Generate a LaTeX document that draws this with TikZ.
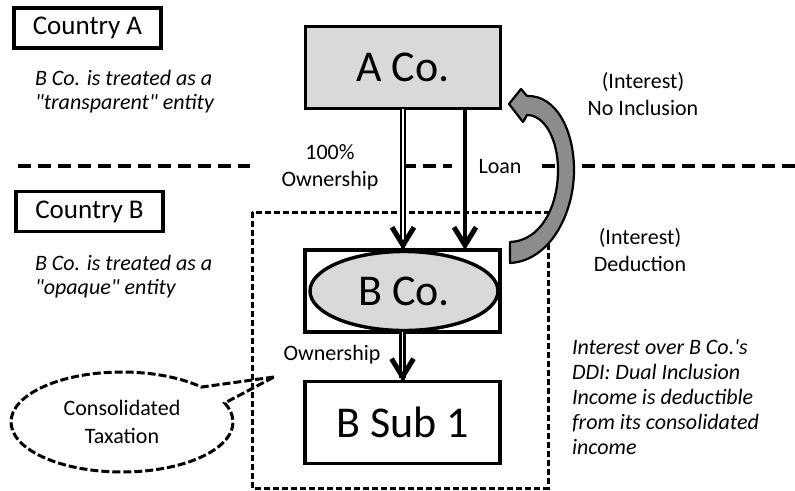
\documentclass[tikz,border=0pt]{standalone}
\usepackage{fontspec}
\setmainfont{Carlito}
\usetikzlibrary{arrows.meta,shapes.geometric,shapes.callouts}
\definecolor{boxgray}{HTML}{D9D9D9}
\definecolor{arrowgray}{HTML}{8C8C8C}

\begin{document}
\begin{tikzpicture}[x=1pt,y=-1pt,
  every node/.style={inner sep=0pt, outer sep=0pt},
  country/.style={draw, line width=3.2pt, minimum width=147pt, minimum height=40pt,
    font=\fontsize{27}{29}\selectfont},
  entity/.style={draw, line width=3.4pt, minimum width=195pt, minimum height=82pt,
    font=\fontsize{44}{48}\selectfont},
  remark/.style={font=\fontsize{22}{24}\selectfont\itshape, align=left, anchor=west},
  lbl/.style={font=\fontsize{22}{27}\selectfont, align=center},
  headtip/.style={-{Straight Barb[length=18pt,width=22pt,line width=5pt]}},
  tiponly/.style={headtip, line width=4pt},
  own/.style={double, double distance=1.8pt, line width=2.2pt},
  loan/.style={line width=3.8pt},
  border line/.style={line width=3.3pt, dash pattern=on 13pt off 7pt},
  consbox/.style={line width=3pt, dash pattern=on 6pt off 3pt},
]
\useasboundingbox (0,0) rectangle (795,490);

% country labels and notes
\node[country] (cA) at (87.5,28) {Country A};
\node[country] (cB) at (89.5,211.5) {Country B};
\node[remark] (tA) at (35,92) {B Co. is treated as a\\\textquotedbl transparent\textquotedbl{} entity};
\node[remark] (tB) at (35,277) {B Co. is treated as a\\\textquotedbl opaque\textquotedbl{} entity};

% border between the two countries
\draw[border line] (18,166) -- (250,166);
\draw[border line] (403,166) -- (452,166);
\draw[border line] (542,166) -- (795,166);

% consolidated group
\draw[consbox] (252,212) rectangle (548,488);

% entities
\node[entity, fill=boxgray] (A) at (403,67.5) {A Co.};
\node[entity, fill=white] (Bbox) at (402.5,291) {};
\node[draw, line width=3.4pt, ellipse, fill=boxgray, minimum width=188pt,
  minimum height=79pt, font=\fontsize{44}{48}\selectfont] (B) at (404,291) {B Co.};
\node[entity, fill=white] (Sub) at (402.5,422.5) {B Sub 1};

% ownership (double shaft, tip drawn on its last point) and loan
\draw[own] (A.south) -- ([yshift=4pt]A.south |- Bbox.north);
\draw[tiponly] ([yshift=2pt]A.south |- Bbox.north) -- (A.south |- Bbox.north);
\draw[loan, headtip] ([xshift=62pt]A.south) -- ([xshift=62pt]A.south |- Bbox.north);
\draw[own] (Bbox.south) -- ([yshift=4pt]Bbox.south |- Sub.north);
\draw[tiponly] ([yshift=2pt]Bbox.south |- Sub.north) -- (Bbox.south |- Sub.north);

\node[lbl] (own1) at (330,167) {100\%\\Ownership};
\node[lbl] (loanlbl) at (500,167) {Loan};
\node[lbl] (own2) at (332,355) {Ownership};

% interest flow back to A Co.
\draw[line width=2.2pt, fill=arrowgray, line join=round]
  (510,263) .. controls (549,261) and (574,215) .. (574,170)
  .. controls (574,130) and (556,95) .. (527,96)
  -- (521,89) -- (509,104) -- (523,122) -- (527,115)
  .. controls (545,115) and (558,140) .. (558,170)
  .. controls (558,208) and (540,241) .. (510,242) -- cycle;

\node[lbl] (noinc) at (643,94) {(Interest)\\No Inclusion};
\node[lbl] (ded) at (640,250) {(Interest)\\Deduction};

\node[remark, font=\fontsize{22}{25}\selectfont\itshape] (ddi) at (572,397)
  {Interest over B Co.\textquotesingle s\\DDI: Dual Inclusion\\Income is deductible\\from its consolidated\\income};

% callout
\node[ellipse callout, draw, line width=3pt, dash pattern=on 8pt off 3pt,
  minimum width=222pt, minimum height=100pt, callout pointer arc=22,
  callout absolute pointer={(274,377)}, align=center,
  font=\fontsize{22}{28}\selectfont] (cons) at (122,422) {Consolidated\\Taxation};
\end{tikzpicture}
\end{document}
